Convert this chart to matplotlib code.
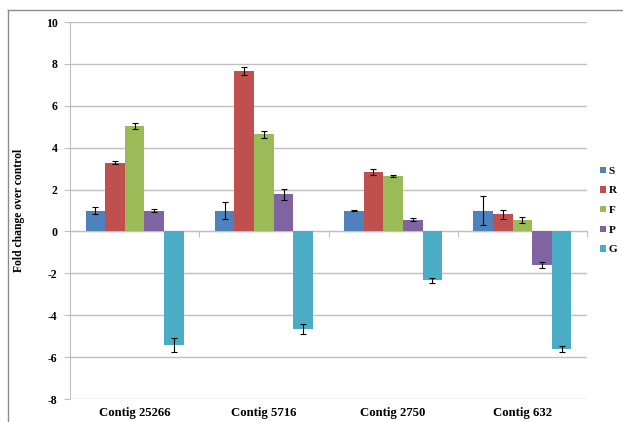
import numpy as np
import matplotlib
matplotlib.use("Agg")
import matplotlib.pyplot as plt
from matplotlib.lines import Line2D

categories = ["Contig 25266", "Contig 5716", "Contig 2750", "Contig 632"]
series = ["S", "R", "F", "P", "G"]

S_vals = [1.0, 1.0, 1.0, 1.0]
R_vals = [3.29, 7.66, 2.82, 0.81]
F_vals = [5.04, 4.63, 2.65, 0.54]
P_vals = [0.99, 1.77, 0.56, -1.59]
G_vals = [-5.42, -4.66, -2.34, -5.61]

S_err = [0.16, 0.39, 0.03, 0.71]
R_err = [0.05, 0.17, 0.14, 0.23]
F_err = [0.13, 0.18, 0.06, 0.15]
P_err = [0.07, 0.26, 0.06, 0.15]
G_err = [0.32, 0.22, 0.14, 0.16]

colors = ["#4F81BD", "#C0504D", "#9BBB59", "#8064A2", "#4BACC6"]

values = [S_vals, R_vals, F_vals, P_vals, G_vals]
errors = [S_err, R_err, F_err, P_err, G_err]

plt.rcParams["font.family"] = ["Liberation Serif", "DejaVu Serif"]
plt.rcParams["font.weight"] = "bold"
plt.rcParams["axes.unicode_minus"] = False

W, H = 623, 422
fig = plt.figure(figsize=(W / 100, H / 100), dpi=100)
ax = fig.add_axes([70 / W, 1 - 399 / H, (587 - 70) / W, (399 - 22) / H])

grid_c = "#BFBFBF"
n = len(categories)
x = np.arange(n)
bw = 0.152
for i, (s, v, e, c) in enumerate(zip(series, values, errors, colors)):
    offs = (i - 2) * bw
    ax.bar(x + offs, v, width=bw, color=c, edgecolor="none", label=s, zorder=3)
    ax.errorbar(x + offs, v, yerr=e, fmt="none", ecolor="black",
                elinewidth=0.8, capsize=2.2, capthick=0.8, zorder=4)

ax.set_xlim(-0.5, n - 0.5)
ax.set_ylim(-8, 10)
ax.set_yticks(np.arange(-8, 11, 2))
ax.yaxis.grid(True, color=grid_c, linewidth=1.0, zorder=0)
ax.set_axisbelow(True)

for side in ["top", "right"]:
    ax.spines[side].set_visible(False)
ax.spines["left"].set_color(grid_c)
ax.spines["bottom"].set_position(("data", 0))
ax.spines["bottom"].set_color(grid_c)
ax.spines["bottom"].set_zorder(2)

ax.set_xticks(np.arange(-0.5, n, 1.0))
ax.set_xticklabels([])
ax.tick_params(axis="x", length=4, color=grid_c, direction="out")
ax.tick_params(axis="y", length=4, color=grid_c, direction="out", labelsize=8.5, pad=5)

sec = ax.secondary_xaxis(0.0)
sec.set_xticks(x)
sec.set_xticklabels(categories, fontsize=9.2, fontweight="bold")
sec.tick_params(length=0, pad=6)
sec.spines["bottom"].set_visible(False)

ax.set_ylabel("Fold change over control", fontsize=8.4, fontweight="bold")
ax.yaxis.set_label_coords(-(70 - 25) / (587 - 70), 0.5)

leg = ax.legend(loc="center left", bbox_to_anchor=(1.026, 0.5), frameon=False,
                fontsize=8, handlelength=0.5, handleheight=0.5, handletextpad=0.25,
                labelspacing=0.95, borderaxespad=0.0, borderpad=0.0)
for t in leg.get_texts():
    t.set_fontweight("bold")

frame_c = "#8C8C8C"
fig.add_artist(Line2D([8 / W, 8 / W], [0, 1 - 10 / H], transform=fig.transFigure,
                      color=frame_c, linewidth=1.0))
fig.add_artist(Line2D([8 / W, 1], [1 - 10 / H, 1 - 10 / H], transform=fig.transFigure,
                      color=frame_c, linewidth=1.0))

fig.savefig("out.png", dpi=100)
